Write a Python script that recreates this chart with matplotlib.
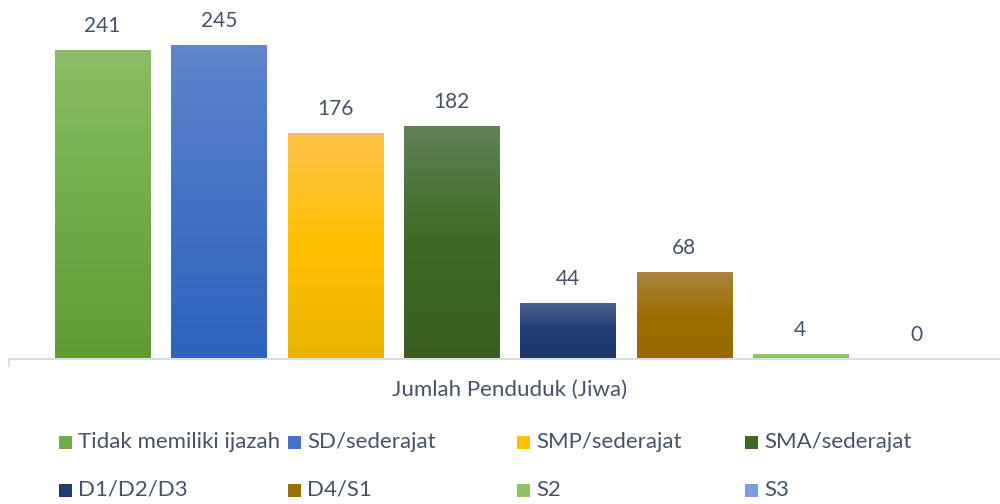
import numpy as np
import matplotlib
matplotlib.use("Agg")
import matplotlib.pyplot as plt
from matplotlib.colors import LinearSegmentedColormap
from matplotlib.patches import Rectangle

# data
kategori = ["Tidak memiliki ijazah", "SD/sederajat", "SMP/sederajat", "SMA/sederajat",
            "D1/D2/D3", "D4/S1", "S2", "S3"]
jumlah = [241, 245, 176, 182, 44, 68, 4, 0]
judul_sumbu = "Jumlah Penduduk (Jiwa)"

# warna gradien: bawah, tengah, atas
warna = [
    ("#5f9c34", "#70ad47", "#8bbd66"),
    ("#2e63bd", "#4472c4", "#5f85cd"),
    ("#e8b400", "#ffc000", "#fdc34a"),
    ("#3a5e21", "#3f6a24", "#628157"),
    ("#1e3768", "#1f3b72", "#4d6291"),
    ("#946900", "#9e7000", "#a98541"),
    ("#80b95c", "#8cc46a", "#a0d07f"),
    ("#6a90d4", "#7c9fdc", "#93b2e4"),
]
teks = "#44546a"
plt.rcParams['font.family'] = ['Lato', 'DejaVu Sans']

fig = plt.figure(figsize=(10, 5.04), dpi=100)
ax = fig.add_axes([0.009, 145 / 504, 0.991, 359 / 504])

x = np.arange(len(jumlah))
lebar = 0.817
bars = ax.bar(x, jumlah, width=lebar, color="none", edgecolor="none")

grad = np.linspace(0, 1, 256).reshape(-1, 1)
for b, (c0, c1, c2), v in zip(bars, warna, jumlah):
    if v > 0:
        cmap = LinearSegmentedColormap.from_list("g", [(0, c0), (0.5, c1), (1, c2)])
        im = ax.imshow(grad, cmap=cmap, origin="lower", aspect="auto",
                       extent=(b.get_x(), b.get_x() + b.get_width(), 0, v), zorder=2)
        im.set_clip_path(b)
    ax.annotate(str(v), (b.get_x() + b.get_width() / 2, v), xytext=(0, 13),
                textcoords="offset points", ha="center", va="baseline",
                fontsize=15, color=teks)

ax.set_xlim(-0.804, 7.717)
ax.set_ylim(0, 280)
ax.set_yticks([])
for s in ["top", "right", "left"]:
    ax.spines[s].set_visible(False)
ax.spines["bottom"].set_color("#d9dde4")
ax.spines["bottom"].set_linewidth(1.5)
ax.set_xticks([3.5], labels=[judul_sumbu], fontsize=16, color=teks)
ax.tick_params(axis="x", which="major", length=0, pad=15)
ax.set_xticks([-0.804], minor=True)
ax.tick_params(axis="x", which="minor", length=6, width=1.5, color="#d9dde4")

# legenda manual
kol_x = [59, 288, 517, 745]
bar_y = [442, 490]
for i, (nama, c) in enumerate(zip(kategori, warna)):
    px = kol_x[i % 4]
    py = bar_y[i // 4]
    fig.patches.append(Rectangle((px / 1000, (504 - py - 6.5) / 504), 13 / 1000, 13 / 504,
                                 transform=fig.transFigure, facecolor=c[1], edgecolor="none"))
    fig.text((px + 19) / 1000, (504 - py) / 504, nama, fontsize=16, color=teks,
             ha="left", va="center")

fig.savefig("out.png", dpi=100)
